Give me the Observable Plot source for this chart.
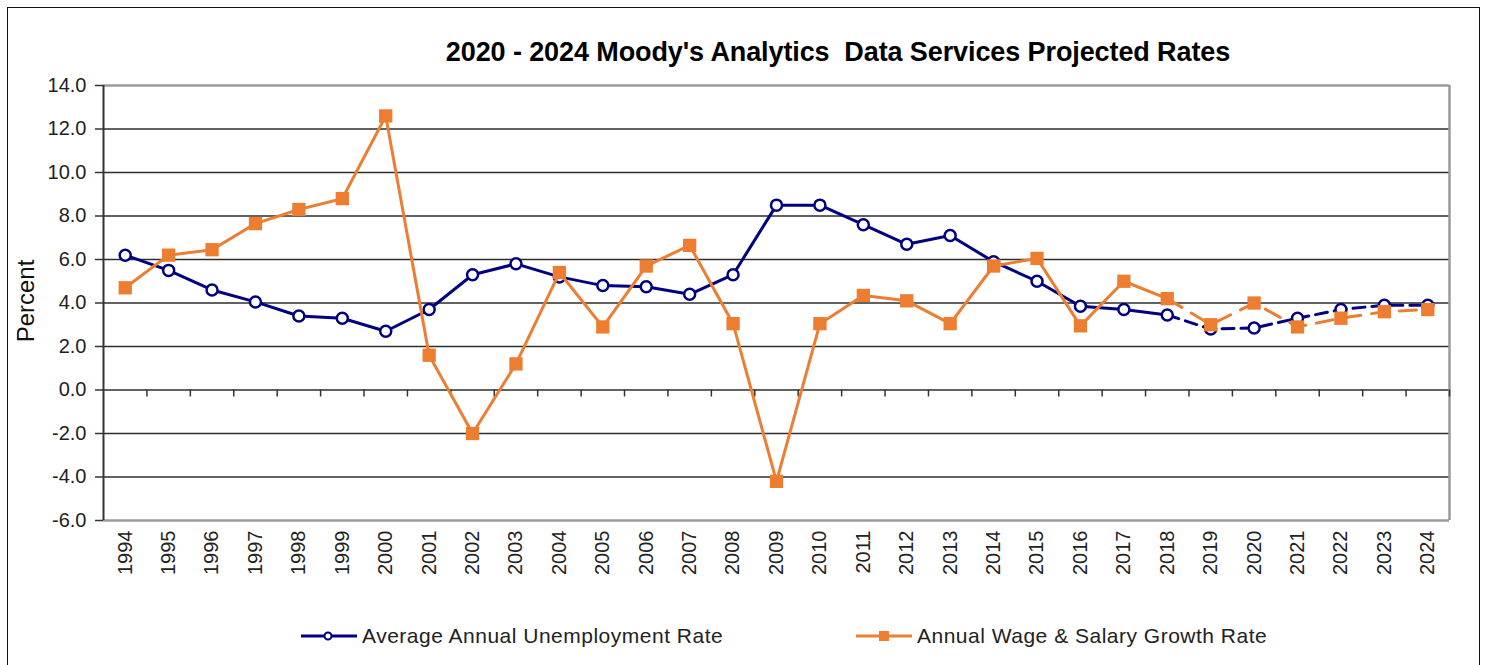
<!DOCTYPE html>
<html>
<head>
<meta charset="utf-8">
<script src="https://cdn.jsdelivr.net/npm/d3@7"></script>
<script src="https://cdn.jsdelivr.net/npm/@observablehq/plot@0.6"></script>
<style>
  html, body { margin: 0; padding: 0; background: #fff; }
  #wrap { position: relative; width: 1485px; height: 665px; overflow: hidden; font-family: "Liberation Sans", Arial, sans-serif; }
  #border { position: absolute; left: 7px; top: 7px; width: 1473px; height: 700px; border: 1.5px solid #111; box-sizing: border-box; }
  #title { position: absolute; left: 0; width: 1676px; top: 37px; text-align: center; font-weight: bold; font-size: 27px; color: #000; letter-spacing: -0.1px; white-space: pre; }
  #ylabel { position: absolute; left: 26px; top: 301px; transform: translate(-50%, -50%) rotate(-90deg); font-size: 24px; color: #111; white-space: nowrap; }
  .leg { position: absolute; top: 624px; font-size: 21px; letter-spacing: 0.5px; color: #222; display: flex; align-items: center; white-space: nowrap; }
  .leg svg { margin-right: 5px; }
  #chart { position: absolute; left: 0; top: 0; }
</style>
</head>
<body>
<div id="wrap">
  <div id="border"></div>
  <div id="chart"></div>
  <div id="title">2020 - 2024 Moody's Analytics  Data Services Projected Rates</div>
  <div id="ylabel">Percent</div>
  <div class="leg" id="leg1" style="left:301px;"></div>
  <div class="leg" id="leg2" style="left:856px;"></div>
</div>
<script>
const years = [1994,1995,1996,1997,1998,1999,2000,2001,2002,2003,2004,2005,2006,2007,2008,2009,2010,2011,2012,2013,2014,2015,2016,2017,2018,2019,2020,2021,2022,2023,2024];
const unemployment = [6.2,5.5,4.6,4.05,3.4,3.3,2.7,3.7,5.3,5.8,5.2,4.8,4.75,4.4,5.3,8.5,8.5,7.6,6.7,7.1,5.9,5.0,3.85,3.7,3.45,2.8,2.85,3.3,3.7,3.9,3.9];
const wageGrowth = [4.7,6.2,6.45,7.65,8.3,8.8,12.6,1.6,-2.0,1.2,5.4,2.9,5.7,6.65,3.05,-4.2,3.05,4.35,4.1,3.05,5.7,6.05,2.95,5.0,4.2,3.0,4.0,2.9,3.3,3.6,3.7];
const lastActualYear = 2018;
const yTicks = [-6,-4,-2,0,2,4,6,8,10,12,14];
const seriesNames = ["Average Annual Unemployment Rate", "Annual Wage & Salary Growth Rate"];

const navy = "#000080";
const orange = "#ED7D31";

const unemp = years.map((y, i) => ({year: y, value: unemployment[i]}));
const wage = years.map((y, i) => ({year: y, value: wageGrowth[i]}));
const actual = d => d.year <= lastActualYear;
const projected = d => d.year >= lastActualYear;

const xMin = years[0] - 0.5, xMax = years[years.length - 1] + 0.5;
const boundaries = years.map(y => y + 0.5);
const innerGrid = yTicks.slice(1, -1);

const chart = Plot.plot({
  width: 1485,
  height: 665,
  marginLeft: 103,
  marginRight: 36,
  marginTop: 85,
  marginBottom: 145,
  x: {domain: [xMin, xMax]},
  y: {domain: [yTicks[0], yTicks[yTicks.length - 1]]},
  style: {fontFamily: "'Liberation Sans', Arial, sans-serif", fontSize: "20px", color: "#222", background: "transparent", overflow: "visible"},
  marks: [
    Plot.gridY(innerGrid, {stroke: "#2e2e2e", strokeOpacity: 1, strokeWidth: 1.4}),
    Plot.ruleY([yTicks[yTicks.length - 1], yTicks[0]], {stroke: "#9a9a9a", strokeWidth: 2.5}),
    Plot.ruleX([xMax], {stroke: "#9a9a9a", strokeWidth: 2.5}),
    Plot.ruleX([xMin], {stroke: "#333", strokeWidth: 2}),
    Plot.axisY({ticks: yTicks, tickFormat: d => d.toFixed(1), tickSize: 8, tickPadding: 9, label: null, stroke: "#333", strokeWidth: 1.5, fontSize: 20}),
    Plot.axisX({ticks: years, tickRotate: -90, tickSize: 0, tickPadding: 10, label: null, tickFormat: d => String(d), fontSize: 20, letterSpacing: 1}),
    Plot.ruleX(boundaries, {x: d => d, y1: 0, y2: 0, insetBottom: -7, stroke: "#333", strokeWidth: 1.5}),
    // unemployment
    Plot.line(unemp.filter(actual), {x: "year", y: "value", stroke: navy, strokeWidth: 3}),
    Plot.line(unemp.filter(projected), {x: "year", y: "value", stroke: navy, strokeWidth: 3, strokeDasharray: "12,7"}),
    Plot.dot(unemp, {x: "year", y: "value", r: 5.5, fill: "white", stroke: navy, strokeWidth: 2.5}),
    // wage growth
    Plot.line(wage.filter(actual), {x: "year", y: "value", stroke: orange, strokeWidth: 3}),
    Plot.line(wage.filter(projected), {x: "year", y: "value", stroke: orange, strokeWidth: 3, strokeDasharray: "17,11"}),
    Plot.dot(wage, {x: "year", y: "value", symbol: "square", r: 7.5, fill: orange, stroke: "none"})
  ]
});
document.getElementById("chart").appendChild(chart);

function legendItem(el, color, shape, label) {
  const svg = `<svg width="56" height="14" viewBox="0 0 56 14">
    <line x1="0" y1="7" x2="56" y2="7" stroke="${color}" stroke-width="3"/>
    ${shape === "circle"
      ? `<circle cx="27" cy="7" r="3.5" fill="white" stroke="${color}" stroke-width="2"/>`
      : `<rect x="23" y="2" width="10" height="10" fill="${color}"/>`}
  </svg>`;
  el.innerHTML = svg + `<span>${label}</span>`;
}
legendItem(document.getElementById("leg1"), navy, "circle", seriesNames[0]);
legendItem(document.getElementById("leg2"), orange, "square", seriesNames[1]);
</script>
</body>
</html>
